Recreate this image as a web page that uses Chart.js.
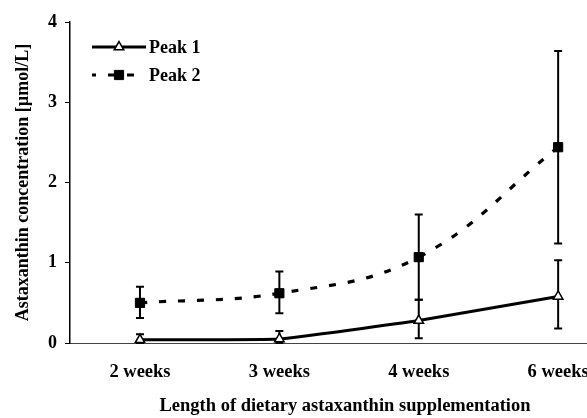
<!DOCTYPE html>
<html>
<head>
<meta charset="utf-8">
<script src="https://cdn.jsdelivr.net/npm/chart.js@4/dist/chart.umd.min.js"></script>
<style>
  html, body { margin: 0; padding: 0; background: #fff; }
  #wrap { width: 587px; height: 418px; position: relative; }
</style>
</head>
<body>
<div id="wrap"><canvas id="astaChart"></canvas></div>
<script>
// Data
const weekLabels = ['2 weeks', '3 weeks', '4 weeks', '6 weeks'];
const weekIndex = [0, 1, 2, 3];

const peak1Mean = [0.04, 0.05, 0.28, 0.58];
const peak1Low  = [0.00, 0.00, 0.06, 0.18];
const peak1High = [0.11, 0.15, 0.54, 1.03];

const peak2Mean = [0.50, 0.62, 1.07, 2.44];
const peak2Low  = [0.31, 0.37, 0.54, 1.24];
const peak2High = [0.70, 0.89, 1.60, 3.64];

const yTicks = [0, 1, 2, 3, 4];

const xTitle = 'Length of dietary astaxanthin supplementation';
const yTitle = 'Astaxanthin concentration [µmol/L]';

const serif = '"Liberation Serif", "DejaVu Serif", serif';

function toPoints(values) {
    return weekIndex.map((x, i) => ({ x: x, y: values[i] }));
}

// vertical error bars with caps, drawn under the markers
const errorBars = {
    id: 'errorBars',
    beforeDatasetsDraw(chart) {
        const ctx = chart.ctx;
        const xs = chart.scales.x, ys = chart.scales.y;
        const ranges = [[peak1Low, peak1High], [peak2Low, peak2High]];
        ctx.save();
        ctx.strokeStyle = '#000';
        ctx.lineWidth = 2;
        ranges.forEach(([lo, hi]) => {
            weekIndex.forEach((w, i) => {
                const px = xs.getPixelForValue(w);
                const top = ys.getPixelForValue(hi[i]);
                const bot = ys.getPixelForValue(lo[i]);
                ctx.beginPath();
                ctx.moveTo(px, top); ctx.lineTo(px, bot);
                ctx.moveTo(px - 4, top); ctx.lineTo(px + 4, top);
                ctx.moveTo(px - 4, bot); ctx.lineTo(px + 4, bot);
                ctx.stroke();
            });
        });
        ctx.restore();
    }
};

// legend inside the plot (line + marker) and the x title, which in the
// original sits a bit right of centre because the figure is cropped
const overlay = {
    id: 'overlay',
    afterDraw(chart) {
        const ctx = chart.ctx;
        const rows = [47, 75];
        ctx.save();
        chart.data.datasets.forEach((ds, i) => {
            const y = rows[i];
            ctx.strokeStyle = ds.borderColor;
            ctx.lineWidth = ds.borderWidth;
            ctx.setLineDash(ds.borderDash || []);
            ctx.lineDashOffset = ds.borderDash ? 3 : 0;
            ctx.beginPath();
            ctx.moveTo(92, y); ctx.lineTo(146, y);
            ctx.stroke();
            ctx.setLineDash([]);
            ctx.fillStyle = ds.pointBackgroundColor;
            ctx.strokeStyle = ds.pointBorderColor;
            ctx.lineWidth = ds.pointBorderWidth;
            Chart.helpers.drawPoint(ctx, {
                pointStyle: ds.pointStyle,
                radius: ds.pointRadius,
                borderWidth: ds.pointBorderWidth,
                rotation: 0
            }, 119, y);
            ctx.fillStyle = '#000';
            ctx.font = 'bold 18px ' + serif;
            ctx.textBaseline = 'middle';
            ctx.textAlign = 'left';
            ctx.fillText(ds.label, 149, y + 1);
        });

        ctx.fillStyle = '#000';
        ctx.font = 'bold 18.5px ' + serif;
        ctx.textAlign = 'center';
        ctx.textBaseline = 'alphabetic';
        ctx.fillText(xTitle, 345, 411);
        ctx.restore();
    }
};

const ctx = document.getElementById('astaChart').getContext('2d');
new Chart(ctx, {
    type: 'line',
    data: {
        datasets: [
            {
                label: 'Peak 1',
                data: toPoints(peak1Mean),
                borderColor: '#000',
                borderWidth: 3,
                tension: 0.1,
                pointStyle: 'triangle',
                pointRadius: 5.5,
                pointBackgroundColor: '#fff',
                pointBorderColor: '#000',
                pointBorderWidth: 1.5
            },
            {
                label: 'Peak 2',
                data: toPoints(peak2Mean),
                borderColor: '#000',
                borderWidth: 3.2,
                borderDash: [7, 12],
                tension: 0.4,
                pointStyle: 'rect',
                pointRadius: 6.5,
                pointBackgroundColor: '#000',
                pointBorderColor: '#000',
                pointBorderWidth: 1
            }
        ]
    },
    options: {
        responsive: true,
        maintainAspectRatio: false,
        animation: false,
        layout: { autoPadding: false, padding: { top: 22, left: 0, right: 0, bottom: 0 } },
        plugins: {
            legend: { display: false },
            tooltip: { enabled: false }
        },
        scales: {
            x: {
                type: 'linear',
                min: -0.502,
                max: 3.207,
                afterBuildTicks: axis => { axis.ticks = weekIndex.map(v => ({ value: v })); },
                afterFit: axis => { axis.height = 75; axis.paddingLeft = 0; axis.paddingRight = 0; },
                grid: { display: false, drawTicks: false },
                border: { color: '#444', width: 1, dash: [26, 4, 3, 5] },
                ticks: {
                    color: '#000',
                    padding: 18,
                    maxRotation: 0,
                    font: { family: serif, size: 18.5, weight: 'bold' },
                    callback: v => weekLabels[v]
                },
                title: { display: false }
            },
            y: {
                min: 0,
                max: 4,
                afterBuildTicks: axis => { axis.ticks = yTicks.map(v => ({ value: v })); },
                afterFit: axis => { axis.width = 70; },
                grid: { drawOnChartArea: false, tickLength: 5, color: '#000', lineWidth: 1 },
                border: { color: '#000', width: 1.5 },
                ticks: {
                    color: '#000',
                    padding: 8,
                    font: { family: serif, size: 18, weight: 'bold' }
                },
                title: {
                    display: true,
                    text: yTitle,
                    color: '#000',
                    padding: { top: 13, bottom: 0 },
                    font: { family: serif, size: 18, weight: 'bold' }
                }
            }
        }
    },
    plugins: [errorBars, overlay]
});
</script>
</body>
</html>
